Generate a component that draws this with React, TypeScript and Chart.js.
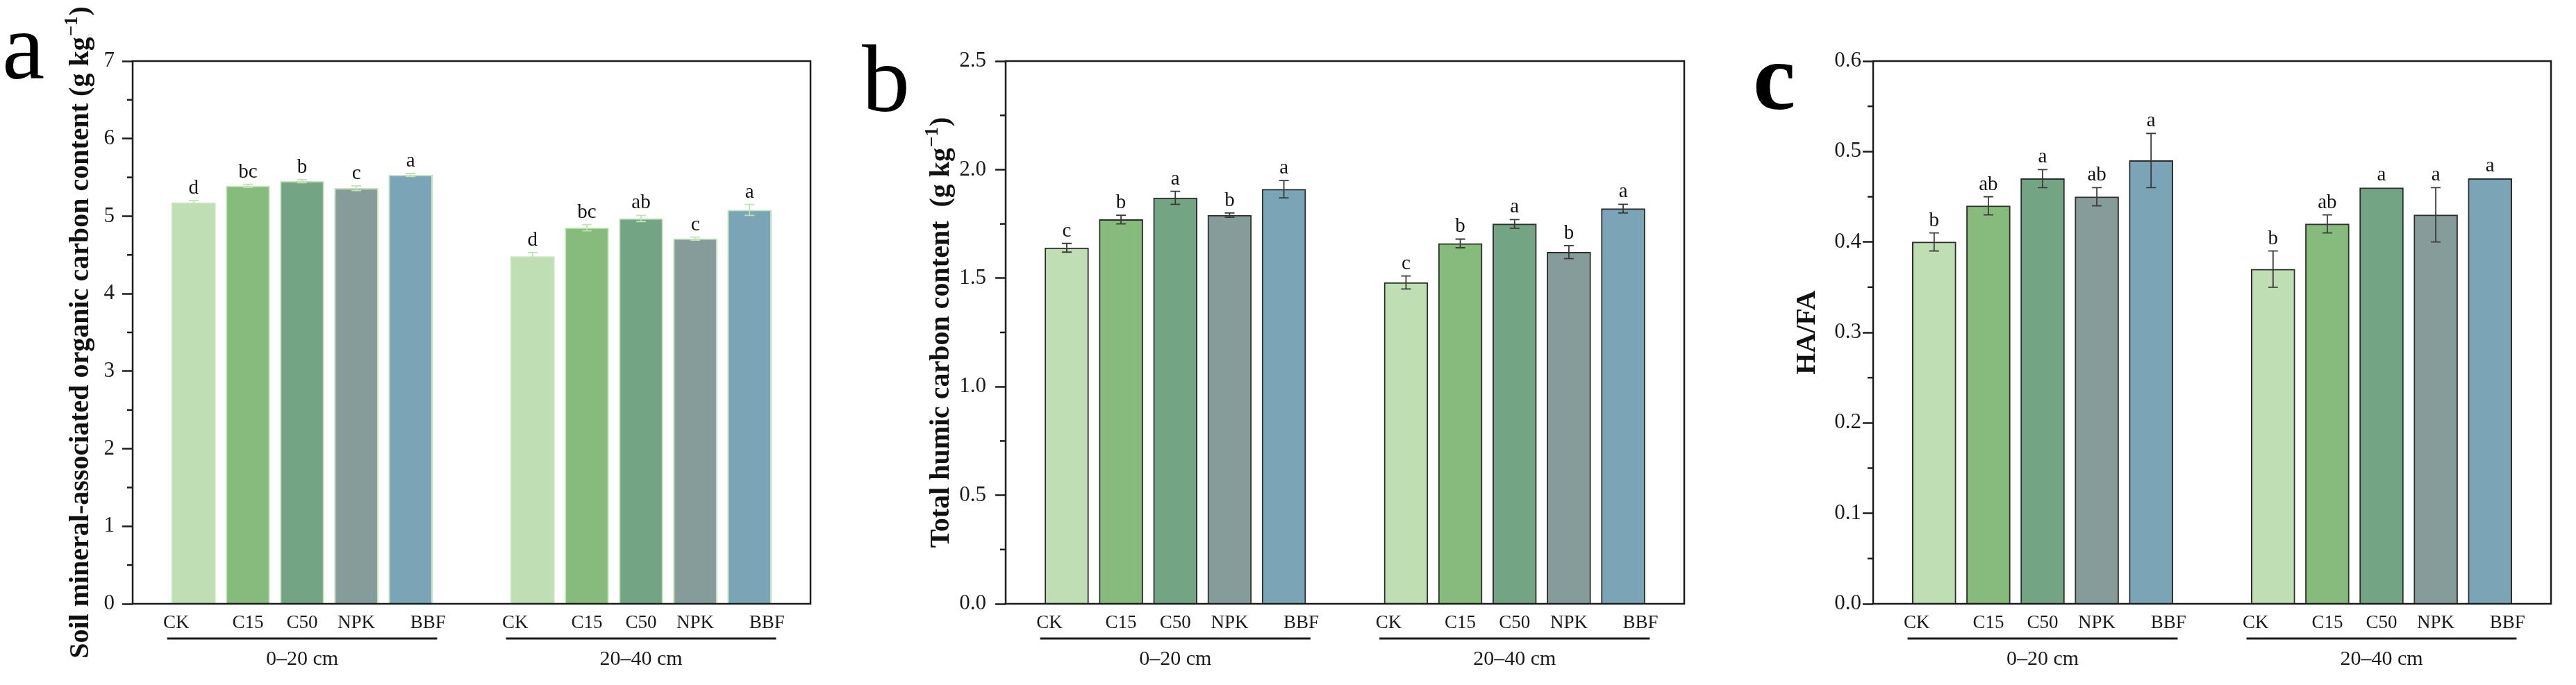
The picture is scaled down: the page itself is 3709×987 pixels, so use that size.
import React, { useEffect, useRef } from "react";
import { Chart, registerables } from "chart.js";

Chart.register(...registerables);

const SERIF = "'Liberation Serif', 'Times New Roman', serif";
Chart.defaults.font.family = SERIF;

// ---------- data ----------
const treatments = ["CK", "C15", "C50", "NPK", "BBF"];
const depths = ["0–20 cm", "20–40 cm"];
const barColors = ["#bfdeb3", "#86bb7b", "#73a584", "#869c9b", "#7aa5b6"];

// panel a: soil mineral-associated organic carbon (g kg-1)
const aValues020 = [5.17, 5.39, 5.45, 5.36, 5.53];
const aErrors020 = [0.03, 0.02, 0.02, 0.03, 0.02];
const aLetters020 = ["d", "bc", "b", "c", "a"];
const aValues2040 = [4.48, 4.85, 4.97, 4.71, 5.08];
const aErrors2040 = [0.05, 0.04, 0.04, 0.02, 0.07];
const aLetters2040 = ["d", "bc", "ab", "c", "a"];

// panel b: total humic carbon (g kg-1)
const bValues020 = [1.64, 1.77, 1.87, 1.79, 1.91];
const bErrors020 = [0.02, 0.02, 0.03, 0.01, 0.04];
const bLetters020 = ["c", "b", "a", "b", "a"];
const bValues2040 = [1.48, 1.66, 1.75, 1.62, 1.82];
const bErrors2040 = [0.03, 0.02, 0.02, 0.03, 0.02];
const bLetters2040 = ["c", "b", "a", "b", "a"];

// panel c: HA/FA
const cValues020 = [0.4, 0.44, 0.47, 0.45, 0.49];
const cErrors020 = [0.01, 0.01, 0.01, 0.01, 0.03];
const cLetters020 = ["b", "ab", "a", "ab", "a"];
const cValues2040 = [0.37, 0.42, 0.46, 0.43, 0.47];
const cErrors2040 = [0.02, 0.01, 0, 0.03, 0];
const cLetters2040 = ["b", "ab", "a", "a", "a"];

// ---------- layout constants ----------
const H = 987;
const PLOT_TOP = 88;
const PLOT_BOTTOM = 870;
const X_MAX = 12.5;
const FIRST = 1.125;
const GROUP_STEP = 6.25;
const LABEL_SHIFT = [-0.32, 0, 0, 0, 0.32];
const AXIS = "#1c1c1c";

const slotPos = (g: number, i: number) => FIRST + i + g * GROUP_STEP;

type PanelCfg = {
  key: string;
  left: number;
  width: number;
  plotLeft: number;
  plotRight: number;
  yMax: number;
  yStep: number;
  decimals: number;
  tickPad: number;
  values: number[][];
  errors: number[][];
  letters: string[][];
  titleMain: string;
  titleSup: string;
  titleEnd: string;
  titleX: number;
  panel: string;
  panelX: number;
  panelY: number;
  panelBold: boolean;
  borderColor: string;
  errColor: string;
};

const panels: PanelCfg[] = [
  {
    key: "a", left: 0, width: 1236, plotLeft: 191, plotRight: 1167,
    yMax: 7, yStep: 1, decimals: 0, tickPad: 11,
    values: [aValues020, aValues2040], errors: [aErrors020, aErrors2040], letters: [aLetters020, aLetters2040],
    titleMain: "Soil mineral-associated organic carbon content (g kg", titleSup: "−1", titleEnd: ")", titleX: 127,
    panel: "a", panelX: 3, panelY: 113, panelBold: false,
    borderColor: "#c6e4bb", errColor: "#c2e0b6",
  },
  {
    key: "b", left: 1236, width: 1236, plotLeft: 212, plotRight: 1189,
    yMax: 2.5, yStep: 0.5, decimals: 1, tickPad: 13,
    values: [bValues020, bValues2040], errors: [bErrors020, bErrors2040], letters: [bLetters020, bLetters2040],
    titleMain: "Total humic carbon content  (g kg", titleSup: "−1", titleEnd: ")", titleX: 130,
    panel: "b", panelX: 5, panelY: 160, panelBold: false,
    borderColor: "#2e2e2e", errColor: "#3a3a3a",
  },
  {
    key: "c", left: 2472, width: 1237, plotLeft: 225, plotRight: 1201,
    yMax: 0.6, yStep: 0.1, decimals: 1, tickPad: 2,
    values: [cValues020, cValues2040], errors: [cErrors020, cErrors2040], letters: [cLetters020, cLetters2040],
    titleMain: "HA/FA", titleSup: "", titleEnd: "", titleX: 141,
    panel: "c", panelX: 52, panelY: 157, panelBold: true,
    borderColor: "#2e2e2e", errColor: "#3a3a3a",
  },
];

function makeOverlay(cfg: PanelCfg) {
  return {
    id: "overlay_" + cfg.key,
    afterDraw(chart: any) {
      const ctx: CanvasRenderingContext2D = chart.ctx;
      const xs = chart.scales.x;
      const ys = chart.scales.y;
      const area = chart.chartArea;
      ctx.save();

      // minor ticks
      ctx.strokeStyle = AXIS;
      ctx.lineWidth = 2.5;
      const nMajor = Math.round(cfg.yMax / cfg.yStep);
      for (let k = 0; k < nMajor; k++) {
        const y = ys.getPixelForValue((k + 0.5) * cfg.yStep);
        ctx.beginPath();
        ctx.moveTo(area.left - 8, y);
        ctx.lineTo(area.left, y);
        ctx.stroke();
      }

      // frame
      ctx.lineWidth = 2.5;
      ctx.strokeRect(area.left, area.top, area.right - area.left, area.bottom - area.top);

      // error bars and letters
      cfg.values.forEach((vals, g) => {
        vals.forEach((v, i) => {
          const e = cfg.errors[g][i];
          const x = xs.getPixelForValue(slotPos(g, i));
          const yTop = ys.getPixelForValue(v + e);
          const yBot = ys.getPixelForValue(v - e);
          if (e > 0) {
            ctx.strokeStyle = cfg.errColor;
            ctx.lineWidth = 1.8;
            ctx.beginPath();
            ctx.moveTo(x, yTop);
            ctx.lineTo(x, yBot);
            ctx.moveTo(x - 7, yTop);
            ctx.lineTo(x + 7, yTop);
            ctx.moveTo(x - 7, yBot);
            ctx.lineTo(x + 7, yBot);
            ctx.stroke();
          }
          ctx.fillStyle = "#111";
          ctx.font = `29px ${SERIF}`;
          ctx.textAlign = "center";
          ctx.textBaseline = "alphabetic";
          ctx.fillText(cfg.letters[g][i], x, yTop - 10);
        });
      });

      // group underline and depth labels
      depths.forEach((d, g) => {
        const mid = slotPos(g, 2);
        const x0 = xs.getPixelForValue(mid - 2.49);
        const x1 = xs.getPixelForValue(mid + 2.49);
        ctx.strokeStyle = AXIS;
        ctx.lineWidth = 3;
        ctx.beginPath();
        ctx.moveTo(x0, 920);
        ctx.lineTo(x1, 920);
        ctx.stroke();
        ctx.fillStyle = "#1a1a1a";
        ctx.font = `30px ${SERIF}`;
        ctx.textAlign = "center";
        ctx.textBaseline = "alphabetic";
        ctx.fillText(d, (x0 + x1) / 2, 958);
      });

      // y title (rotated, with superscript)
      const cy = (area.top + area.bottom) / 2;
      ctx.translate(cfg.titleX, cy);
      ctx.rotate(-Math.PI / 2);
      ctx.fillStyle = "#111";
      ctx.textAlign = "left";
      ctx.textBaseline = "alphabetic";
      const mainFont = `bold 40px ${SERIF}`;
      const supFont = `bold 27px ${SERIF}`;
      ctx.font = mainFont;
      const wMain = ctx.measureText(cfg.titleMain).width;
      const wEnd = cfg.titleEnd ? ctx.measureText(cfg.titleEnd).width : 0;
      ctx.font = supFont;
      const wSup = cfg.titleSup ? ctx.measureText(cfg.titleSup).width + 2 : 0;
      const total = wMain + wSup + wEnd;
      let tx = -total / 2;
      ctx.font = mainFont;
      ctx.fillText(cfg.titleMain, tx, 0);
      tx += wMain;
      if (cfg.titleSup) {
        ctx.font = supFont;
        ctx.fillText(cfg.titleSup, tx + 1, -16);
        tx += wSup;
      }
      if (cfg.titleEnd) {
        ctx.font = mainFont;
        ctx.fillText(cfg.titleEnd, tx, 0);
      }
      ctx.setTransform(1, 0, 0, 1, 0, 0);

      // panel letter
      ctx.fillStyle = "#000";
      ctx.font = `${cfg.panelBold ? "bold " : ""}138px ${SERIF}`;
      ctx.textAlign = "left";
      ctx.textBaseline = "alphabetic";
      ctx.fillText(cfg.panel, cfg.panelX, cfg.panelY);

      ctx.restore();
    },
  };
}

function Panel({ cfg }: { cfg: PanelCfg }) {
  const ref = useRef<HTMLCanvasElement | null>(null);

  useEffect(() => {
    if (!ref.current) return;
    const points: { x: number; y: number }[] = [];
    const colors: string[] = [];
    cfg.values.forEach((vals, g) =>
      vals.forEach((v, i) => {
        points.push({ x: slotPos(g, i), y: v });
        colors.push(barColors[i]);
      })
    );
    const labelPositions: number[] = [];
    depths.forEach((_, g) =>
      treatments.forEach((_t, i) => labelPositions.push(slotPos(g, i) + LABEL_SHIFT[i]))
    );

    const chart = new Chart(ref.current, {
      type: "bar",
      data: {
        datasets: [
          {
            data: points as any,
            backgroundColor: colors,
            borderColor: cfg.borderColor,
            borderWidth: 2,
            barThickness: 63,
          },
        ],
      },
      options: {
        responsive: false,
        animation: false,
        devicePixelRatio: 1,
        layout: {
          padding: { left: 0, right: cfg.width - cfg.plotRight, top: PLOT_TOP, bottom: 0 },
        },
        plugins: {
          legend: { display: false },
          tooltip: { enabled: false },
          title: { display: false },
        },
        scales: {
          x: {
            type: "linear",
            min: 0,
            max: X_MAX,
            offset: false,
            grid: { display: false, drawTicks: false },
            border: { display: false },
            afterBuildTicks: (scale: any) => {
              scale.ticks = labelPositions.map((v) => ({ value: v }));
            },
            afterFit: (scale: any) => {
              scale.height = H - PLOT_BOTTOM;
            },
            ticks: {
              autoSkip: false,
              maxRotation: 0,
              minRotation: 0,
              padding: 12,
              color: "#1a1a1a",
              font: { size: 27, family: SERIF },
              callback: (_v: any, index: number) => treatments[index % treatments.length],
            },
          },
          y: {
            type: "linear",
            min: 0,
            max: cfg.yMax,
            grid: {
              display: true,
              drawOnChartArea: false,
              drawTicks: true,
              tickLength: 15,
              tickWidth: 2.5,
              tickColor: AXIS,
            },
            border: { display: false },
            afterFit: (scale: any) => {
              scale.width = cfg.plotLeft;
            },
            ticks: {
              stepSize: cfg.yStep,
              padding: cfg.tickPad,
              color: "#1a1a1a",
              font: { size: 31, family: SERIF },
              callback: (v: any) => Number(v).toFixed(cfg.decimals),
            },
          },
        },
      },
      plugins: [makeOverlay(cfg)],
    });
    return () => chart.destroy();
  }, [cfg]);

  return (
    <canvas
      ref={ref}
      width={cfg.width}
      height={H}
      style={{ position: "absolute", left: cfg.left, top: 0, width: cfg.width, height: H }}
    />
  );
}

export default function App() {
  return (
    <div
      style={{
        position: "fixed",
        left: 0,
        top: 0,
        width: 3709,
        height: H,
        background: "#ffffff",
        overflow: "hidden",
      }}
    >
      {panels.map((p) => (
        <Panel key={p.key} cfg={p} />
      ))}
    </div>
  );
}
